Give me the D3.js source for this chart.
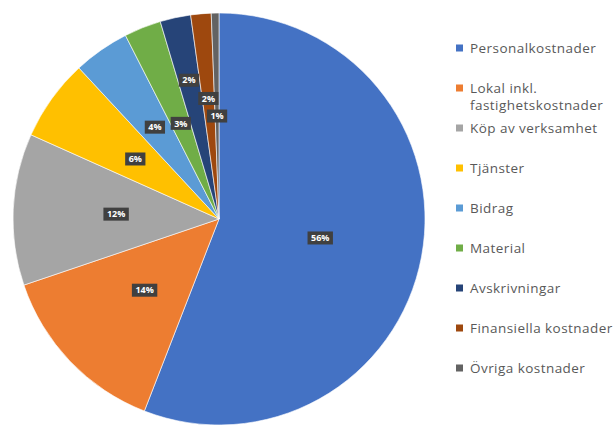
<!DOCTYPE html>
<html>
<head>
<meta charset="utf-8">
<script src="https://cdn.jsdelivr.net/npm/d3@7"></script>
<style>
  body { margin: 0; background: #fff; }
  svg { display: block; }
</style>
</head>
<body>
<div id="chart"></div>
<script>
'use strict';

// categories (legend order = slice order, clockwise from 12 o'clock)
const categories = [
  "Personalkostnader",
  "Lokal inkl. fastighetskostnader",
  "Köp av verksamhet",
  "Tjänster",
  "Bidrag",
  "Material",
  "Avskrivningar",
  "Finansiella kostnader",
  "Övriga kostnader"
];
// share of total, percent
const values = [55.9, 13.9, 11.9, 6.4, 4.4, 2.9, 2.4, 1.6, 0.6];
const colors = ["#4472C4", "#ED7D31", "#A5A5A5", "#FFC000", "#5B9BD5",
                "#70AD47", "#264478", "#9E480E", "#636363"];

const width = 616, height = 428;
const cx = 219, cy = 219, radius = 206;

const svg = d3.select("#chart").append("svg")
  .attr("width", width)
  .attr("height", height);

const data = categories.map((c, i) => ({name: c, value: values[i], color: colors[i]}));

const pie = d3.pie()
  .sort(null)
  .value(d => d.value);

const arc = d3.arc()
  .innerRadius(0)
  .outerRadius(radius);

const arcs = pie(data);

const g = svg.append("g")
  .attr("transform", "translate(" + cx + "," + cy + ")");

g.selectAll("path.slice")
  .data(arcs)
  .enter().append("path")
  .attr("class", "slice")
  .attr("d", arc)
  .attr("fill", d => d.data.color)
  .attr("stroke", "#fff")
  .attr("stroke-width", 0.6);

// ****************** data labels ***************************
const fmt = d3.format(".0f");
const labelG = g.append("g");
const placed = [];
const boxH = 13, pad = 4;

// place small slices first so bigger ones keep the default spot
arcs.slice().reverse().forEach(function(d) {
  const txt = fmt(d.data.value) + "%";
  const lab = labelG.append("g");
  const t = lab.append("text")
    .attr("text-anchor", "middle")
    .attr("dy", "0.35em")
    .attr("fill", "#fff")
    .style("font-family", "'Open Sans', 'DejaVu Sans', sans-serif")
    .style("font-weight", "bold")
    .style("font-size", "9px")
    .text(txt);
  const w = t.node().getComputedTextLength() + 7;
  const mid = (d.startAngle + d.endAngle) / 2;
  let r = radius * 0.5;
  let x, y;
  for (let k = 0; k < 60; k++) {
    x = Math.sin(mid) * r;
    y = -Math.cos(mid) * r;
    const hit = placed.some(p =>
      Math.abs(p.x - x) < (p.w + w) / 2 + pad &&
      Math.abs(p.y - y) < boxH + pad);
    if (!hit) break;
    r += 3;
  }
  placed.push({x: x, y: y, w: w});
  lab.attr("transform", "translate(" + x + "," + y + ")");
  lab.insert("rect", "text")
    .attr("x", -w / 2)
    .attr("y", -boxH / 2)
    .attr("width", w)
    .attr("height", boxH)
    .attr("fill", "#404040");
});

// ****************** legend ***************************
const legendY = d3.scalePoint()
  .domain(categories)
  .range([48, 368]);

const legend = svg.append("g")
  .attr("transform", "translate(456,0)");

const item = legend.selectAll("g.item")
  .data(data)
  .enter().append("g")
  .attr("class", "item")
  .attr("transform", d => "translate(0," + legendY(d.name) + ")");

item.append("rect")
  .attr("x", 0)
  .attr("y", -3.5)
  .attr("width", 7)
  .attr("height", 7)
  .attr("fill", d => d.color);

item.append("text")
  .attr("x", 14)
  .attr("fill", "#595959")
  .style("font-family", "'Open Sans', 'DejaVu Sans', sans-serif")
  .style("font-size", "13.5px")
  .style("letter-spacing", "0.45px")
  .each(function(d) {
    // wrap the one long name like the original legend does
    const lines = d.name === "Lokal inkl. fastighetskostnader"
      ? ["Lokal inkl.", "fastighetskostnader"] : [d.name];
    const el = d3.select(this);
    lines.forEach((l, i) => {
      el.append("tspan")
        .attr("x", 14)
        .attr("dy", i === 0 ? "0.35em" : "1.3em")
        .text(l);
    });
  });
</script>
</body>
</html>
